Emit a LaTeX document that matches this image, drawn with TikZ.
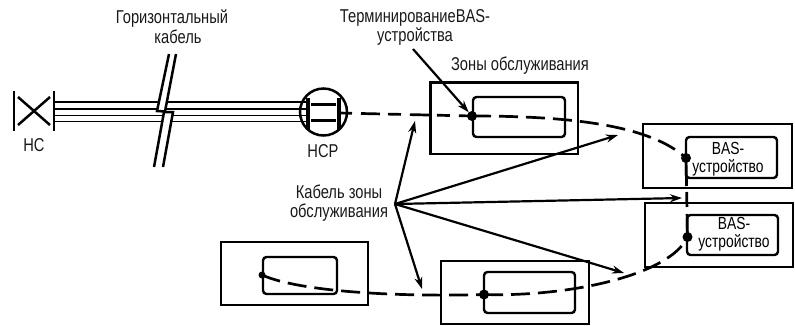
\documentclass[tikz,border=0pt]{standalone}
\usepackage{fontspec}
\setmainfont[FakeStretch=0.79]{Liberation Sans}
\usetikzlibrary{arrows.meta,calc}
\tikzset{
  x=1pt,y=-1pt,
  outerbox/.style={draw=black,line width=2.4pt},
  innerbox/.style={draw=black,line width=2.4pt,rounded corners=3.5pt},
  label/.style={inner sep=0,outer sep=0,font=\fontsize{18.6}{19.5}\selectfont,text=black!90,align=center},
  smalllabel/.style={inner sep=0,outer sep=0,font=\fontsize{17.5}{18.5}\selectfont,text=black,align=center},
  leader/.style={draw=black,line width=2.2pt,-{Stealth[length=12pt,width=8pt]}},
  cablezone/.style={draw=black,line width=2.7pt,dash pattern=on 19pt off 8pt},
  joint/.style={circle,fill=black,inner sep=0,minimum size=#1,outer sep=0},
  joint/.default=10pt,
  wire/.style={draw=black,line width=1.9pt},
  heavy/.style={draw=black,line width=2.5pt},
}
\begin{document}
\begin{tikzpicture}
\useasboundingbox (0,0) rectangle (795,325);
% HC
\draw[heavy] (14,91) -- (14,131);
\draw[heavy] (54,91) -- (54,131);
\draw[heavy] (18,97) -- (50,125);
\draw[heavy] (50,97) -- (18,125);
\node[label] (hc) at (34,145) {HC};
% named cable ends
\coordinate (c1a) at (55,102); \coordinate (c1b) at (308,102);
\coordinate (c2a) at (55,109); \coordinate (c2b) at (308,109);
\coordinate (c3a) at (55,115.5); \coordinate (c3b) at (308,115.5);
\coordinate (c4a) at (55,121.5); \coordinate (c4b) at (308,121.5);
\draw[wire] (c1a) -- (c1b);
\draw[wire] (c2a) -- (c2b);
\draw[wire] (c3a) -- (c3b);
\draw[wire] (c4a) -- (c4b);
% break
\fill[white] (169,54) -- (157,111) -- (165,111.5) -- (164,112) -- (154,168) -- (163,168) -- (173,112) -- (165,111.5) -- (176,54) -- cycle;
\draw[heavy,line join=miter] (169,54) -- (157,111) -- (165,111.5) -- (176,54);
\draw[heavy,line join=miter] (154,167) -- (164,112) -- (173,112) -- (163,167);
% HCP
\node[circle,draw=black,line width=2.5pt,minimum size=47pt,inner sep=0,outer sep=0,fill=none] (hcp) at (323.5,112) {};
\draw[line width=3.2pt] (308,98) -- (308,130);
\draw[line width=3.2pt] (339,98) -- (339,130);
\draw[line width=3pt] (311,104) -- (336,104);
\draw[line width=3pt] (311,120) -- (336,120);
\node[label] (hcpl) at (323,151) {HCP};
% labels
\node[label] (lh) at (172,26.5) {Горизонтальный\\\hspace*{12pt}кабель};
\node[label] (lt) at (415,27.5) {ТерминированиеBAS-\\устройства};
\node[label] (lz) at (520,66) {Зоны обслуживания};
\node[label] (lk) at (339,203) {Кабель зоны\\обслуживания};
% zones
\draw[outerbox] (430.5,82.5) rectangle (578,154);
\draw[innerbox] (473,97) rectangle (565,137);
\draw[outerbox] (643,124) rectangle (792,188);
\draw[innerbox] (686,137) rectangle (777,178);
\draw[outerbox] (645,203) rectangle (793,267);
\draw[innerbox] (687,215) rectangle (778,255);
\draw[outerbox] (221,242) rectangle (368,305);
\draw[innerbox] (263,257) rectangle (337,294);
\draw[outerbox] (441,261) rectangle (589,324);
\draw[innerbox] (484,272) rectangle (575,313);
\node[smalllabel] (b1) at (728,159) {BAS-\\устройство};
\node[smalllabel] (b2) at (734,234) {BAS-\\устройство};
% joints
\node[joint] (ja) at (472,116) {};
\node[joint] (jb) at (686,158) {};
\node[joint] (jd) at (687.5,237) {};
\node[joint=7pt] (jc) at (262,275) {};
\node[joint] (je) at (484,294.5) {};
\coordinate (hcpout) at (339,113);
% zone cables
\draw[cablezone,dash pattern=on 13pt off 9pt on 19pt off 8pt] (hcpout) -- (ja.center);
\draw[cablezone] (ja.center) .. controls (570,116) and (650,125) .. (jb.center);
\draw[cablezone] (jc.center) .. controls (300,292) and (400,297) .. (je.center);
\draw[cablezone] (je.center) .. controls (570,297) and (670,275) .. (jd.center);
\draw[draw=black,line width=2.7pt,dash pattern=on 28pt off 6pt on 15pt off 7pt on 30pt] (jb.center) -- (jd.center);
% leaders
\coordinate (apex) at (395,204);
\coordinate (t1) at (415,121);
\coordinate (t2) at (618,135);
\coordinate (t3) at (682,198);
\coordinate (t4) at (624,273);
\coordinate (t5) at (422,289);
\coordinate (ts) at (413,49);
\draw[leader] (apex) -- (t1);
\draw[leader] (apex) -- (t2);
\draw[leader] (apex) -- (t3);
\draw[leader] (apex) -- (t4);
\draw[leader] (apex) -- (t5);
\draw[leader] (ts) -- (ja);
\end{tikzpicture}
\end{document}
